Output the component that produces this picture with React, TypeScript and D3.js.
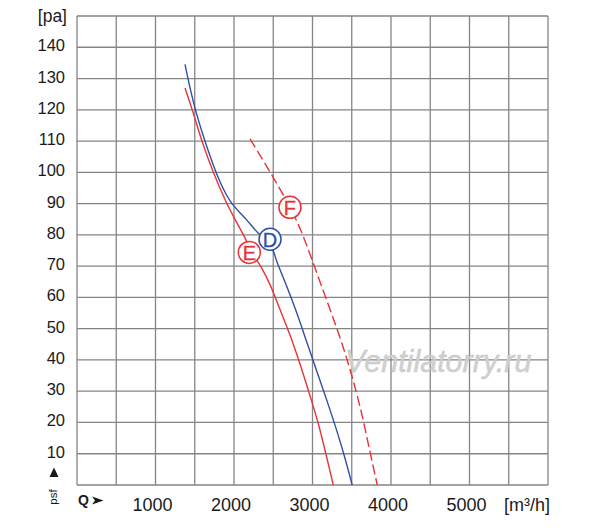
import React from "react";
import * as d3 from "d3";

const W = 600;
const H = 528;

const xTicks = [1000, 2000, 3000, 4000, 5000];
const yTicks = [10, 20, 30, 40, 50, 60, 70, 80, 90, 100, 110, 120, 130, 140];
const xGrid = d3.range(0, 6001, 500);
const yGrid = d3.range(0, 151, 10);

// [Q m3/h, psf Pa]
const curveD: [number, number][] = [
  [1376, 134.5], [1440, 127], [1520, 119], [1630, 110], [1780, 99.5], [1900, 93],
  [1975, 90], [2161, 84.8], [2310, 80.5], [2459, 77], [2560, 70.5], [2680, 63],
  [2800, 55], [2930, 45.5], [3060, 36], [3190, 26.5], [3320, 16.5], [3420, 8], [3505, 0],
];
const curveE: [number, number][] = [
  [1376, 127], [1474, 119.5], [1592, 110], [1737, 100], [1900, 90.5], [2034, 84],
  [2130, 79.5], [2230, 74.5], [2350, 69.5], [2460, 64], [2580, 56.5], [2720, 47.5],
  [2850, 38], [2975, 28], [3075, 19.5], [3170, 10], [3265, 0],
];
const curveF: [number, number][] = [
  [2204, 110.7], [2450, 100.5], [2713, 88.8], [2850, 81.5], [2980, 73], [3110, 64],
  [3240, 55], [3372, 45.5], [3500, 35], [3620, 23.5], [3725, 11.5], [3825, 0],
];
const markers: { label: string; q: number; p: number; color: string }[] = [
  { label: "E", q: 2195, p: 74.4, color: "#e8323a" },
  { label: "D", q: 2459, p: 78.6, color: "#2f4fa8" },
  { label: "F", q: 2713, p: 88.8, color: "#e8323a" },
];

const RED = "#e8323a";
const BLUE = "#2f4fa8";
const GRID = "#858585";
const INK = "#1a1a1a";
const FONT = "'Liberation Sans', Arial, Helvetica, sans-serif";

export default function App() {
  const x = d3.scaleLinear().domain([0, 6000]).range([77, 548]);
  const y = d3.scaleLinear().domain([0, 150]).range([485, 16]);
  const line = d3
    .line<[number, number]>()
    .x((d) => x(d[0]))
    .y((d) => y(d[1]))
    .curve(d3.curveCatmullRom.alpha(0.5));

  return (
    <svg
      width={W}
      height={H}
      viewBox={`0 0 ${W} ${H}`}
      style={{ position: "absolute", left: 0, top: 0, background: "#fff" }}
      fontFamily={FONT}
    >
      <rect x={0} y={0} width={W} height={H} fill="#fff" />
      {/* grid */}
      <g stroke={GRID} strokeWidth={1.3}>
        {xGrid.map((v) => (
          <line key={"x" + v} x1={x(v)} x2={x(v)} y1={y(0)} y2={y(150)} />
        ))}
        {yGrid.map((v) => (
          <line key={"y" + v} x1={x(0)} x2={x(6000)} y1={y(v)} y2={y(v)} />
        ))}
      </g>

      {/* watermark */}
      <text
        x={345}
        y={372}
        fontSize={30.5}
        fontStyle="italic"
        fill="#d0d0d0"
        stroke="#c4c4c4"
        strokeWidth={0.4}
        fontFamily={FONT}
      >
        Ventilatorry.ru
      </text>

      {/* y labels */}
      <g fontSize={16.5} fill={INK} textAnchor="end">
        {yTicks.map((v) => (
          <text key={v} x={65} y={y(v) - 2} dominantBaseline="central">
            {v}
          </text>
        ))}
        <text x={67} y={22} fontSize={17.5}>[pa]</text>
      </g>

      {/* x labels */}
      <g fontSize={18} fill={INK} textAnchor="middle">
        {xTicks.map((v) => (
          <text key={v} x={x(v) - 3} y={511}>
            {v}
          </text>
        ))}
        <text x={504} y={511} textAnchor="start">
          [m³/h]
        </text>
      </g>

      {/* axis symbols */}
      <text x={78} y={505} fontSize={14} fontWeight="bold" fill={INK}>
        Q
      </text>
      <path d="M92,496.5 L103.5,500.5 L92,504.5 L95,500.5 Z" fill={INK} />
      <path d="M54,467.5 L58.5,477 L49.5,477 Z" fill={INK} />
      <text
        transform="translate(57,497) rotate(-90)"
        fontSize={11.5}
        fill={INK}
        textAnchor="middle"
      >
        psf
      </text>

      {/* curves */}
      <path d={line(curveE) ?? ""} fill="none" stroke={RED} strokeWidth={1.4} />
      <path d={line(curveD) ?? ""} fill="none" stroke={BLUE} strokeWidth={1.4} />
      <path
        d={line(curveF) ?? ""}
        fill="none"
        stroke={RED}
        strokeWidth={1.4}
        strokeDasharray="10,4"
      />

      {/* markers */}
      {markers.map((m) => (
        <g key={m.label}>
          <circle
            cx={x(m.q)}
            cy={y(m.p)}
            r={11}
            fill="#fff"
            stroke={m.color}
            strokeWidth={1.5}
          />
          <text
            x={x(m.q)}
            y={y(m.p) + 0.5}
            fontSize={20}
            fill={m.color}
            stroke={m.color}
            strokeWidth={0.3}
            textAnchor="middle"
            dominantBaseline="central"
          >
            {m.label}
          </text>
        </g>
      ))}
    </svg>
  );
}
